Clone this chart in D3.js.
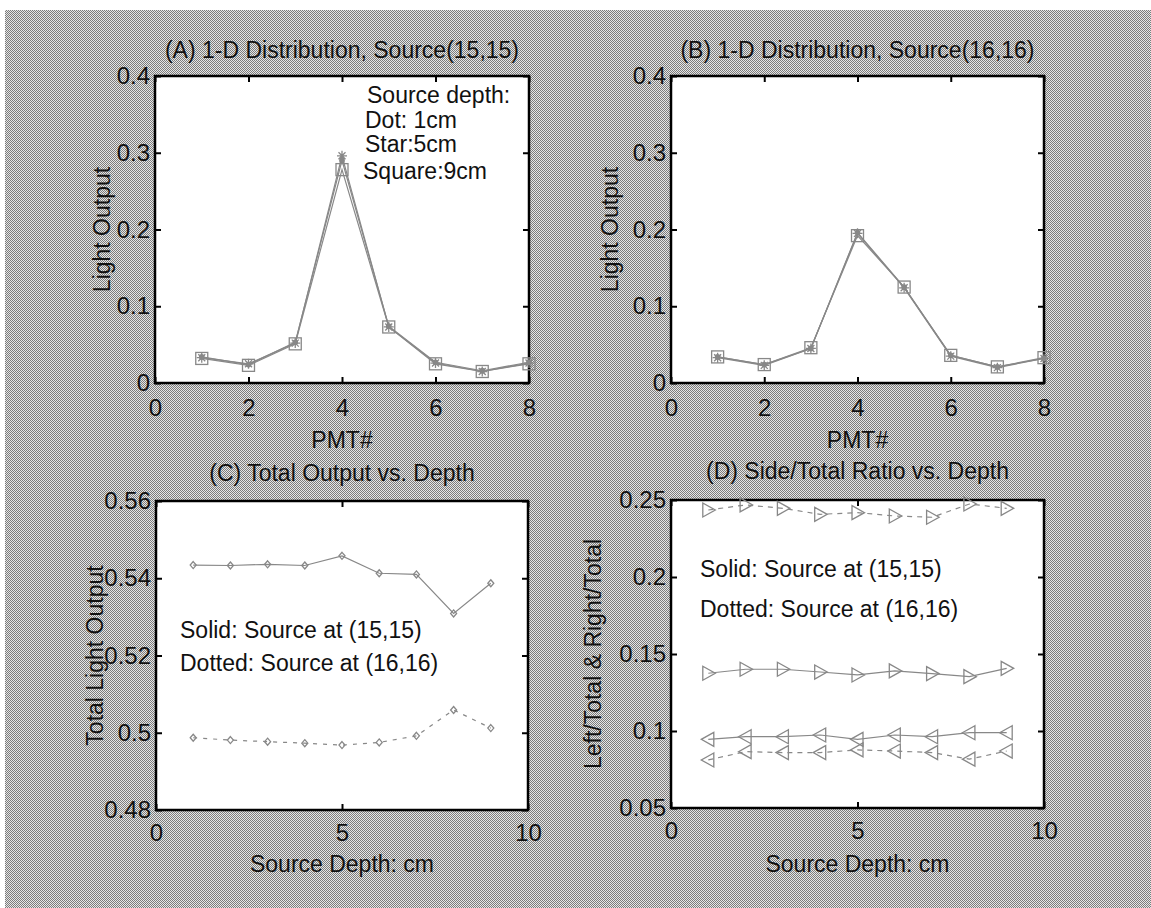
<!DOCTYPE html>
<html>
<head>
<meta charset="utf-8">
<script src="https://cdn.jsdelivr.net/npm/d3@7"></script>
<style>
  html, body { margin: 0; padding: 0; background: #fff; }
  svg text { font-family: "Liberation Sans", Arial, sans-serif; fill: #111; }
</style>
</head>
<body>
<svg id="fig" width="1151" height="908"></svg>
<script>
// ---- data ----
const pmt = [1, 2, 3, 4, 5, 6, 7, 8];
const distA_dot    = [0.034, 0.024, 0.053, 0.290, 0.074, 0.027, 0.016, 0.027];
const distA_star   = [0.033, 0.025, 0.052, 0.296, 0.073, 0.026, 0.015, 0.026];
const distA_square = [0.032, 0.023, 0.051, 0.278, 0.073, 0.025, 0.015, 0.025];
const distB_dot    = [0.034, 0.024, 0.045, 0.196, 0.125, 0.036, 0.021, 0.032];
const distB_star   = [0.033, 0.023, 0.045, 0.195, 0.124, 0.035, 0.020, 0.032];
const distB_square = [0.034, 0.024, 0.046, 0.192, 0.125, 0.036, 0.021, 0.033];

const depth = [1, 2, 3, 4, 5, 6, 7, 8, 9];
const total_15_15 = [0.5434, 0.5433, 0.5436, 0.5433, 0.5458, 0.5413, 0.5410, 0.5309, 0.5387];
const total_16_16 = [0.4987, 0.4981, 0.4977, 0.4973, 0.4968, 0.4975, 0.4992, 0.5059, 0.5012];

const right_16_16 = [0.2435, 0.2468, 0.2446, 0.2407, 0.2418, 0.2396, 0.2388, 0.2474, 0.2446];
const right_15_15 = [0.1375, 0.1401, 0.1401, 0.1383, 0.1364, 0.1390, 0.1373, 0.1353, 0.1407];
const left_15_15  = [0.0946, 0.0963, 0.0963, 0.0974, 0.0946, 0.0974, 0.0963, 0.0989, 0.0989];
const left_16_16  = [0.0812, 0.0866, 0.0860, 0.0860, 0.0877, 0.0870, 0.0860, 0.0817, 0.0870];

const ticksPMT = [0, 2, 4, 6, 8];
const ticksLight = [0, 0.1, 0.2, 0.3, 0.4];
const ticksDepth = [0, 5, 10];
const ticksTotal = [0.48, 0.50, 0.52, 0.54, 0.56];
const ticksRatio = [0.05, 0.10, 0.15, 0.20, 0.25];

// ---- page ----
const svg = d3.select("#fig");
const defs = svg.append("defs");
const pat = defs.append("pattern").attr("id", "halftone")
  .attr("width", 2).attr("height", 2).attr("patternUnits", "userSpaceOnUse");
pat.append("rect").attr("width", 2).attr("height", 2).attr("fill", "#e6e6e6");
pat.append("rect").attr("x", 0).attr("y", 0).attr("width", 1).attr("height", 1).attr("fill", "#7c7c7c");
pat.append("rect").attr("x", 1).attr("y", 1).attr("width", 1).attr("height", 1).attr("fill", "#7c7c7c");

svg.append("rect").attr("width", 1151).attr("height", 908).attr("fill", "#fff");
svg.append("rect").attr("x", 5).attr("y", 10).attr("width", 1146).attr("height", 898)
  .attr("fill", "url(#halftone)");

const LINE = "#888";
const FS = 23;      // titles, labels, notes
const TICK_FS = 24; // tick labels

function panel(opts) {
  const { left, top, width, height, xDomain, yDomain, xTicks, yTicks, yFmt, xPad } = opts;
  const g = svg.append("g").attr("transform", `translate(${left},${top})`);
  g.append("rect").attr("width", width).attr("height", height).attr("fill", "#fff");
  const x = d3.scaleLinear().domain(xDomain).range([0, width]);
  const y = d3.scaleLinear().domain(yDomain).range([height, 0]);

  const styleAxis = sel => {
    sel.select(".domain").remove();
    sel.selectAll(".tick line").attr("stroke", "#000").attr("stroke-width", 2);
    sel.selectAll(".tick text").attr("font-size", TICK_FS).attr("fill", "#111")
      .style("font-family", '"Liberation Sans", Arial, sans-serif');
  };
  g.append("g").attr("transform", `translate(0,${height})`)
    .call(d3.axisBottom(x).tickValues(xTicks).tickSizeInner(-6).tickSizeOuter(0).tickPadding(xPad).tickFormat(d3.format("d")))
    .call(styleAxis);
  g.append("g")
    .call(d3.axisTop(x).tickValues(xTicks).tickSizeInner(-6).tickSizeOuter(0).tickFormat(""))
    .call(styleAxis);
  g.append("g")
    .call(d3.axisLeft(y).tickValues(yTicks).tickSizeInner(-6).tickSizeOuter(0).tickPadding(5).tickFormat(yFmt))
    .call(styleAxis);
  g.append("g").attr("transform", `translate(${width},0)`)
    .call(d3.axisRight(y).tickValues(yTicks).tickSizeInner(-6).tickSizeOuter(0).tickFormat(""))
    .call(styleAxis);
  g.append("rect").attr("width", width).attr("height", height)
    .attr("fill", "none").attr("stroke", "#000").attr("stroke-width", 2.5);

  const text = (str, tx, ty, anchor = "start", rot = 0) =>
    g.append("text").attr("x", tx).attr("y", ty).attr("text-anchor", anchor)
      .attr("dominant-baseline", "middle").attr("font-size", FS)
      .attr("transform", rot ? `rotate(${rot},${tx},${ty})` : null).text(str);

  const series = (xs, ys, dash, marker) => {
    const pts = xs.map((d, i) => [x(d), y(ys[i])]);
    g.append("path").attr("d", d3.line()(pts)).attr("fill", "none")
      .attr("stroke", LINE).attr("stroke-width", 1.2)
      .attr("stroke-dasharray", dash || null);
    const m = g.append("g").attr("stroke", LINE).attr("stroke-width", 1.3).attr("fill", "none");
    pts.forEach(([px, py]) => marker(m, px, py));
  };
  return { g, x, y, text, series, width, height };
}

// marker shapes
const mDot = (m, px, py) => m.append("circle").attr("cx", px).attr("cy", py).attr("r", 2.2).attr("fill", LINE);
const mStar = (m, px, py) => {
  const r = 5;
  m.append("path").attr("d",
    `M${px - r},${py}H${px + r}M${px},${py - r}V${py + r}` +
    `M${px - r * 0.7},${py - r * 0.7}L${px + r * 0.7},${py + r * 0.7}` +
    `M${px - r * 0.7},${py + r * 0.7}L${px + r * 0.7},${py - r * 0.7}`);
};
const mSquare = (m, px, py) => m.append("rect").attr("x", px - 6).attr("y", py - 6)
  .attr("width", 12).attr("height", 12);
const mDiamond = (m, px, py) => m.append("path")
  .attr("d", `M${px},${py - 3.5}L${px + 3},${py}L${px},${py + 3.5}L${px - 3},${py}Z`);
const mRight = (m, px, py) => m.append("path")
  .attr("d", `M${px - 5.5},${py - 7}L${px + 7},${py}L${px - 5.5},${py + 7}Z`);
const mLeft = (m, px, py) => m.append("path")
  .attr("d", `M${px + 5.5},${py - 7}L${px - 7},${py}L${px + 5.5},${py + 7}Z`);

const fmtShort = d => d === 0 ? "0" : d3.format(".2~f")(d);

// (A)
const A = panel({ left: 155, top: 76, width: 374, height: 307, xPad: 16,
  xDomain: [0, 8], yDomain: [0, 0.4], xTicks: ticksPMT, yTicks: ticksLight, yFmt: fmtShort });
A.series(pmt, distA_dot, null, mDot);
A.series(pmt, distA_star, null, mStar);
A.series(pmt, distA_square, null, mSquare);
A.text("(A) 1-D Distribution, Source(15,15)", A.width / 2, -24, "middle");
A.text("PMT#", A.width / 2, 366, "middle");
A.text("Light Output", -51, A.height / 2, "middle", -90);
A.text("Source depth:", 212, 21);
A.text("Dot: 1cm", 210, 46);
A.text("Star:5cm", 210, 70);
A.text("Square:9cm", 208, 97);

// (B)
const B = panel({ left: 671, top: 76, width: 373, height: 307, xPad: 16,
  xDomain: [0, 8], yDomain: [0, 0.4], xTicks: ticksPMT, yTicks: ticksLight, yFmt: fmtShort });
B.series(pmt, distB_dot, null, mDot);
B.series(pmt, distB_star, null, mStar);
B.series(pmt, distB_square, null, mSquare);
B.text("(B) 1-D Distribution, Source(16,16)", B.width / 2, -24, "middle");
B.text("PMT#", B.width / 2, 366, "middle");
B.text("Light Output", -59, B.height / 2, "middle", -90);

// (C)
const C = panel({ left: 156, top: 501, width: 372, height: 309, xPad: 14,
  xDomain: [0, 10], yDomain: [0.48, 0.56], xTicks: ticksDepth, yTicks: ticksTotal, yFmt: fmtShort });
C.series(depth, total_15_15, null, mDiamond);
C.series(depth, total_16_16, "4,6", mDiamond);
C.text("(C) Total Output vs. Depth", C.width / 2, -26, "middle");
C.text("Source Depth: cm", C.width / 2, 365, "middle");
C.text("Total Light Output", -59, C.height / 2, "middle", -90);
C.text("Solid: Source at (15,15)", 24, 131);
C.text("Dotted: Source at (16,16)", 24, 164);

// (D)
const D = panel({ left: 671, top: 500, width: 373, height: 308, xPad: 14,
  xDomain: [0, 10], yDomain: [0.05, 0.25], xTicks: ticksDepth, yTicks: ticksRatio, yFmt: fmtShort });
D.series(depth, right_16_16, "5,5", mRight);
D.series(depth, right_15_15, null, mRight);
D.series(depth, left_15_15, null, mLeft);
D.series(depth, left_16_16, "5,5", mLeft);
D.text("(D) Side/Total Ratio vs. Depth", D.width / 2, -27, "middle");
D.text("Source Depth: cm", D.width / 2, 366, "middle");
D.text("Left/Total & Right/Total", -76, D.height / 2, "middle", -90);
D.text("Solid: Source at (15,15)", 29, 71);
D.text("Dotted: Source at (16,16)", 29, 111);
</script>
</body>
</html>
